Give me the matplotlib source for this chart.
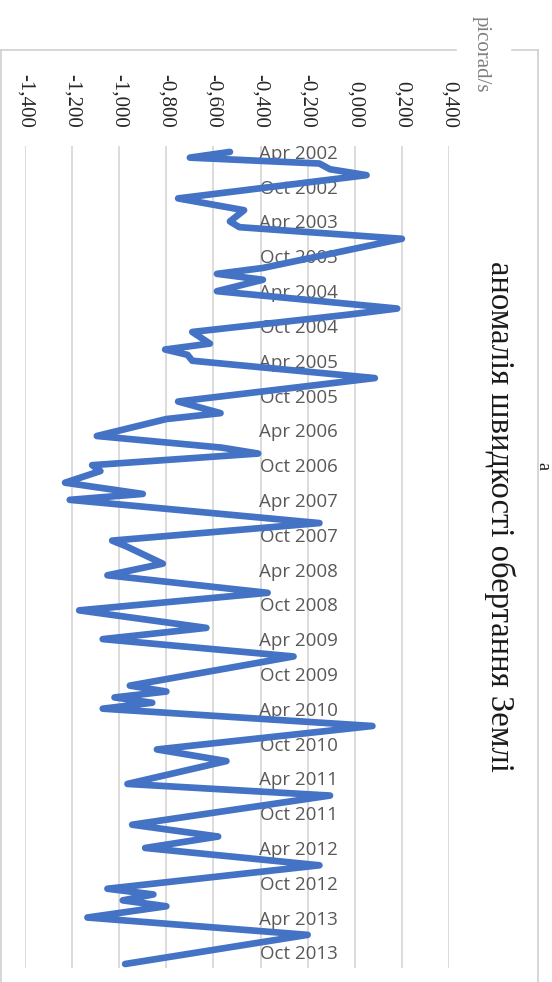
import matplotlib
matplotlib.use("Agg")
import matplotlib.pyplot as plt
from matplotlib.lines import Line2D
import pandas as pd

# monthly anomaly of Earth's rotation speed
dates = ["2002-04", "2002-05", "2002-06", "2002-07", "2002-08", "2002-12",
         "2003-02", "2003-04", "2003-05", "2003-07", "2003-12", "2004-01",
         "2004-02", "2004-04", "2004-07", "2004-08", "2004-11", "2005-01",
         "2005-02", "2005-03", "2005-04", "2005-07", "2005-11", "2006-01",
         "2006-02", "2006-05", "2006-07", "2006-08", "2006-10", "2006-11",
         "2007-01", "2007-03", "2007-04", "2007-08", "2007-11", "2007-12",
         "2008-03", "2008-05", "2008-08", "2008-11", "2009-02", "2009-04",
         "2009-07", "2009-12", "2010-01", "2010-02", "2010-03", "2010-04",
         "2010-07", "2010-11", "2011-01", "2011-05", "2011-07", "2011-12",
         "2012-02", "2012-04", "2012-07", "2012-11", "2012-12", "2013-01",
         "2013-02", "2013-04", "2013-07", "2013-12"]
values = [-0.53, -0.70, -0.15, -0.105, 0.05, -0.75,
          -0.47, -0.53, -0.49, 0.20, -0.39, -0.585,
          -0.39, -0.585, 0.18, -0.02, -0.69, -0.615,
          -0.805, -0.71, -0.69, 0.085, -0.75, -0.57,
          -0.80, -1.095, -0.565, -0.41, -1.115, -1.08,
          -1.23, -0.90, -1.21, -0.15, -1.03, -0.97,
          -0.815, -1.05, -0.37, -1.17, -0.63, -1.07,
          -0.26, -0.955, -0.80, -1.02, -0.86, -1.07,
          0.075, -0.84, -0.545, -0.965, -0.105, -0.945,
          -0.58, -0.89, -0.15, -1.05, -0.855, -0.985,
          -0.80, -1.135, -0.20, -0.975]

value_ticks = [-1.4, -1.2, -1.0, -0.8, -0.6, -0.4, -0.2, 0.0, 0.2, 0.4]
value_labels = ["-1,400", "-1,200", "-1,000", "-0,800", "-0,600", "-0,400",
                "-0,200", "0,000", "0,200", "0,400"]
date_ticks = pd.date_range("2002-04-01", "2013-10-01", freq="6MS")

title = "аномалія швидкості обертання Землі"
unit = "picorad/s"

W, H = 552, 982
fig = plt.figure(figsize=(W / 100, H / 100), dpi=100)
fig.patch.set_facecolor("white")

# plot area in pixels (left, right, top, bottom)
L, R, T, B = 25, 449, 146, 968
ax = fig.add_axes([L / W, 1 - B / H, (R - L) / W, (B - T) / H])

x = pd.to_datetime(dates)
ax.plot(values, x, color="#4472C4", lw=4.8, solid_joinstyle="round",
        solid_capstyle="round", zorder=3)

ax.set_xlim(-1.4, 0.4)
ax.set_ylim(pd.Timestamp("2013-12-22"), pd.Timestamp("2002-03-01"))

ax.xaxis.tick_top()
ax.set_xticks(value_ticks, value_labels)
ax.tick_params(axis="x", length=0, pad=13, labelrotation=-90,
               labelfontfamily="Liberation Serif", labelsize=15,
               labelcolor="#262626")
ax.grid(axis="x", color="#d9d9d9", lw=1.3)

ax.set_yticks(date_ticks, [d.strftime("%b %Y") for d in date_ticks])
ax.tick_params(axis="y", length=0, pad=-(338 - L) * 72 / 100,
               labelfontfamily="Open Sans", labelsize=13.5,
               labelcolor="#595959")

for s in ax.spines.values():
    s.set_visible(False)

# chart frame, broken where the unit label sits
fc = "#d0d0d0"
def px_line(x0, y0, x1, y1):
    fig.add_artist(Line2D([x0 / W, x1 / W], [1 - y0 / H, 1 - y1 / H],
                          transform=fig.transFigure, color=fc, lw=1.2))
px_line(1, 50, 456, 50)
px_line(512, 50, 538, 50)
px_line(538, 50, 538, H)
px_line(1, 50, 1, H)

fig.text(481 / W, 1 - 54 / H, unit, rotation=-90, ha="center", va="center",
         family="Liberation Serif", fontsize=15, color="#7f7f7f")
fig.text(500 / W, 1 - 516 / H, title, rotation=-90, ha="center", va="center",
         family="Liberation Serif", fontsize=23.5, color="#1a1a1a")
fig.text(543 / W, 1 - 466 / H, "а", rotation=-90, ha="center", va="center",
         family="Liberation Serif", fontsize=13, color="#1a1a1a")

fig.savefig("out.png", dpi=100)
